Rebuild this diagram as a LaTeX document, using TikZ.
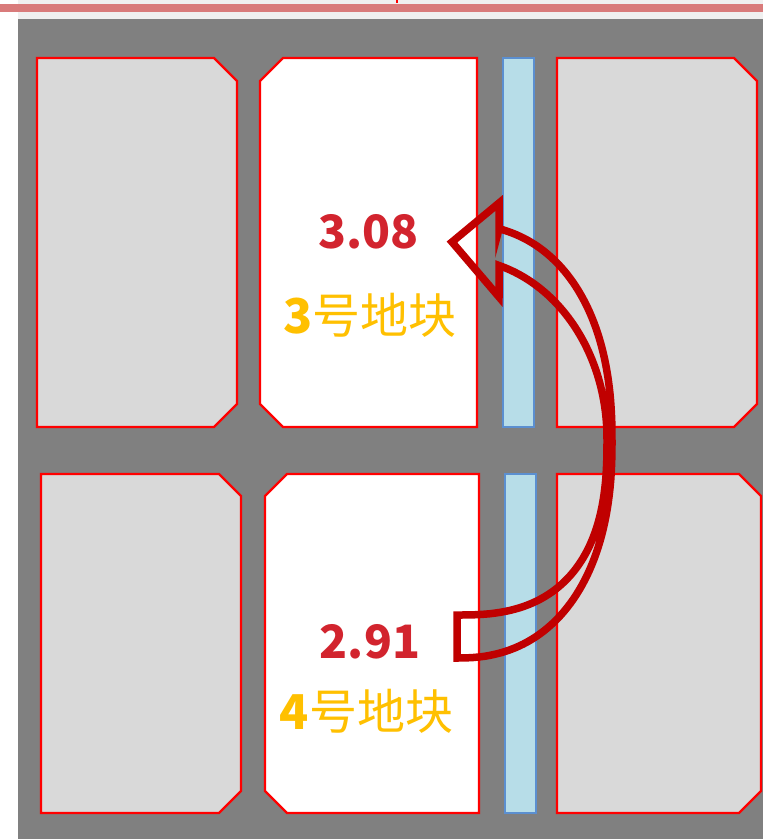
\documentclass[tikz,border=0pt]{standalone}
\usepackage{fontspec}
\newfontfamily\cjk{Noto Sans CJK SC}
\definecolor{bggray}{RGB}{128,128,128}
\definecolor{lightbox}{RGB}{217,217,217}
\definecolor{stripfill}{RGB}{183,221,232}
\definecolor{stripline}{RGB}{91,143,208}
\definecolor{arrowred}{RGB}{192,0,0}
\definecolor{numred}{RGB}{210,36,46}
\definecolor{gold}{RGB}{255,192,0}
\definecolor{topgray}{RGB}{240,240,240}
\definecolor{bandred}{RGB}{217,123,123}
\tikzset{
  parcel/.style={draw=red, line width=2.4pt, line join=miter},
  greyparcel/.style={parcel, fill=lightbox},
  whiteparcel/.style={parcel, fill=white},
  strip/.style={draw=stripline, line width=2pt, fill=stripfill},
  bigarrow/.style={draw=arrowred, line width=7.5pt, line join=miter, miter limit=10},
  numlabel/.style={text=numred, font=\cjk\bfseries\fontsize{46}{46}\selectfont, inner sep=0pt, anchor=base},
  namelabel/.style={text=gold, font=\cjk\fontsize{48}{48}\selectfont, inner sep=0pt, anchor=base}
}
\begin{document}
\begin{tikzpicture}[x=1pt,y=-1pt]
\useasboundingbox (0,0) rectangle (763,839);
% top strip
\fill[white] (0,0) rectangle (763,19);
\fill[topgray] (17.5,0) rectangle (763,19);
\fill[bandred] (0,4) rectangle (763,12);
\draw[red, line width=1.5pt] (397,0) -- (397,3);
% background
\fill[bggray] (17.5,19) rectangle (763,839);
% top row
\path[greyparcel] (37,58) -- (214,58) -- (237,81) -- (237,404) -- (214,427) -- (37,427) -- cycle;
\path[whiteparcel] (283,58) -- (477,58) -- (477,427) -- (283,427) -- (260,404) -- (260,81) -- cycle;
\path[strip] (503,58) rectangle (534,427);
\path[greyparcel] (557,58) -- (734,58) -- (757,81) -- (757,404) -- (734,427) -- (557,427) -- cycle;
% bottom row
\path[greyparcel] (41,474) -- (219,474) -- (241,496) -- (241,791) -- (219,813) -- (41,813) -- cycle;
\path[whiteparcel] (287,474) -- (479,474) -- (479,813) -- (287,813) -- (265,791) -- (265,496) -- cycle;
\path[strip] (505,474) rectangle (536,813);
\path[greyparcel] (557,474) -- (739,474) -- (761,496) -- (761,791) -- (739,813) -- (557,813) -- cycle;
% labels
\node[numlabel] (v3) at (368.5,248) {3.08};
\node[namelabel] (n3) at (370,333) {\textbf{3}号地块};
\node[numlabel] (v4) at (370,658) {2.91};
\node[namelabel] (n4) at (366.5,729) {\textbf{4}号地块};
% curved arrow
\draw[bigarrow] (452,242) -- (499,203) -- (499,229)
  -- plot[domain=77.1:0.5, samples=50, variable=\t] ({457+155*pow(cos(\t),0.87)},{441-217*pow(sin(\t),0.87)})
  -- plot[domain=0.5:89.5, samples=50, variable=\t] ({457+155*pow(cos(\t),0.87)},{441+217*pow(sin(\t),0.87)})
  -- (457,658) -- (457,615)
  -- plot[domain=89.5:0.5, samples=50, variable=\t] ({457+150*pow(cos(\t),0.769)},{438+177*pow(sin(\t),0.769)})
  -- plot[domain=0.5:73.7, samples=50, variable=\t] ({457+150*cos(\t)},{438-179.7*sin(\t)})
  -- (499,297) -- cycle;
\end{tikzpicture}
\end{document}
